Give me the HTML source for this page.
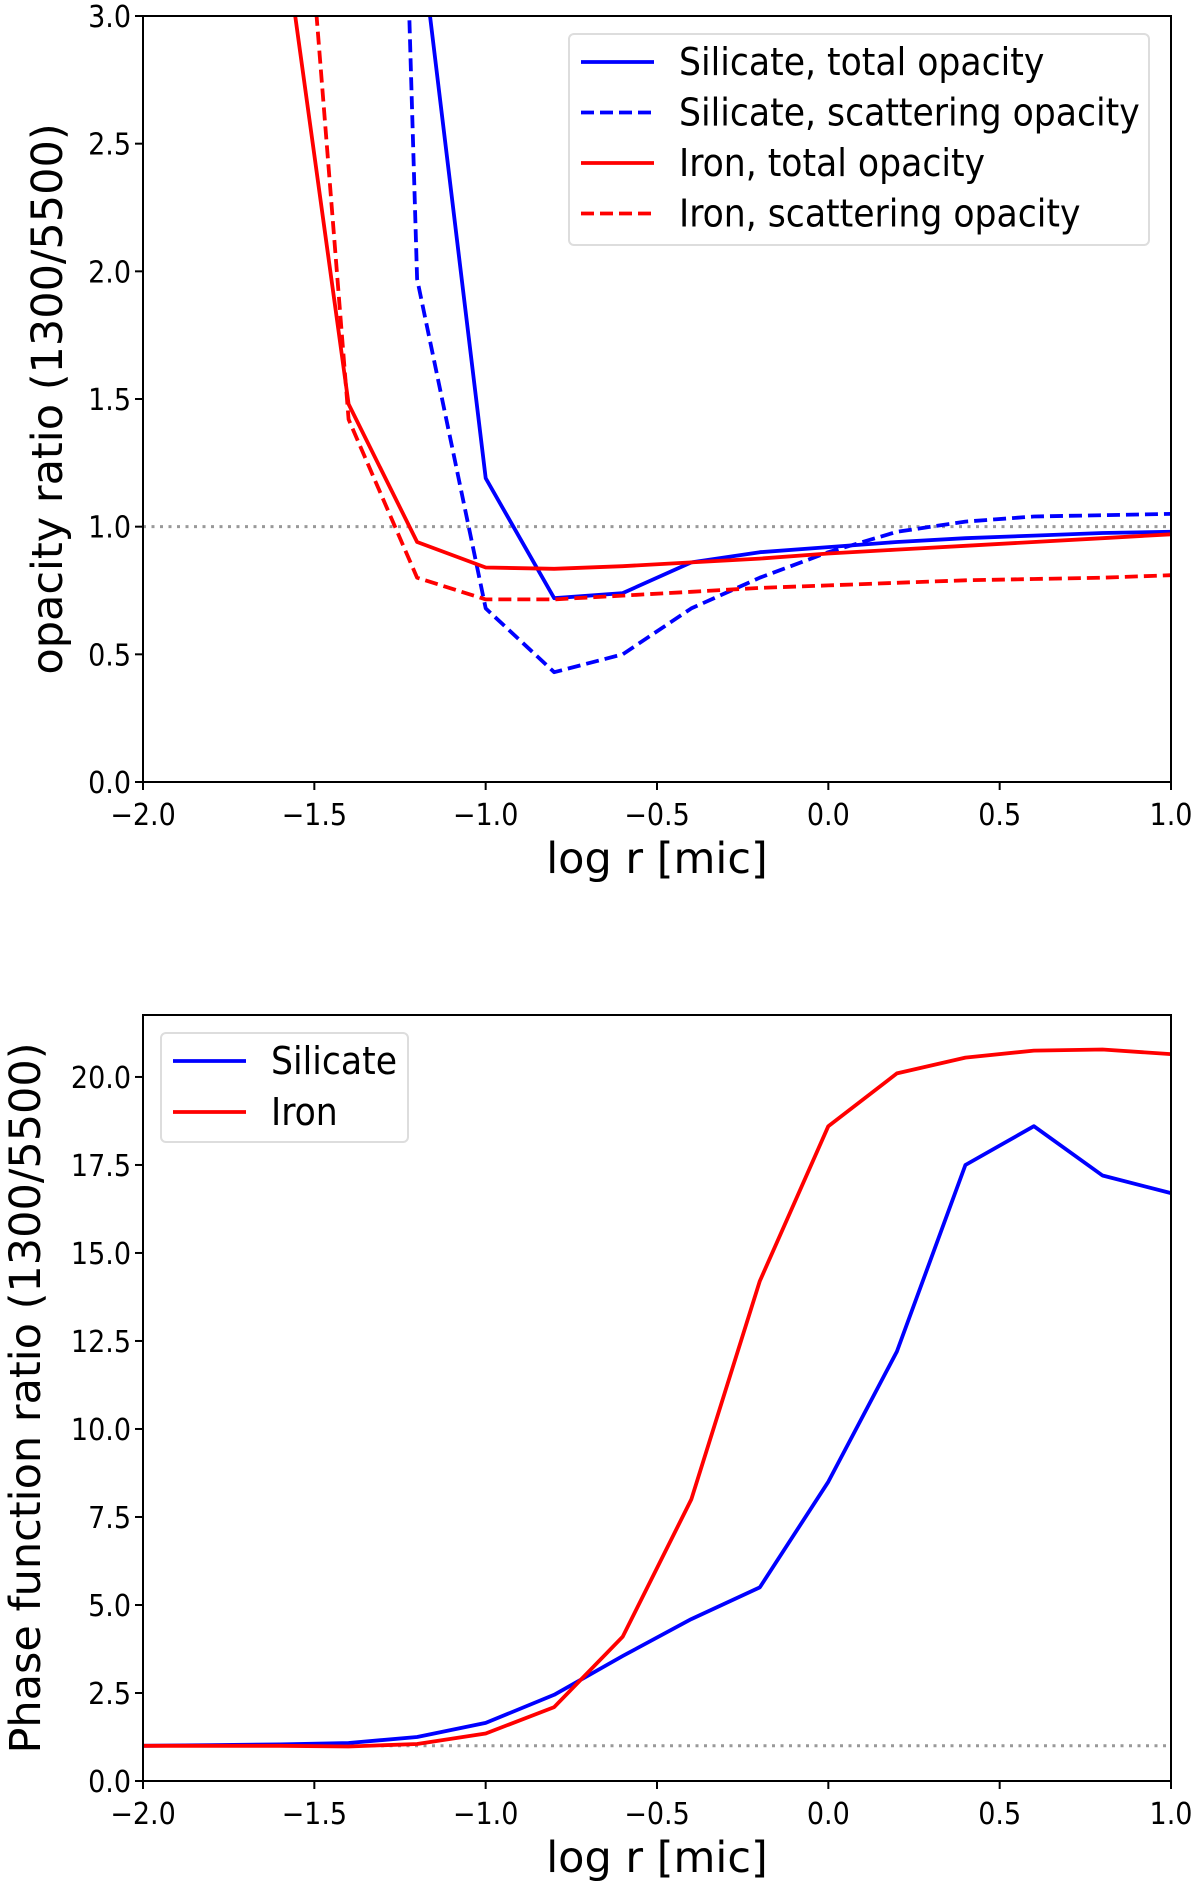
<!DOCTYPE html>
<html><head><meta charset="utf-8"><style>
html,body{margin:0;padding:0;background:#fff;}
svg text{font-family:"DejaVu Sans","Liberation Sans",sans-serif;fill:#000;}
svg text.cond{font-family:"DejaVu Sans Condensed","DejaVu Sans","Liberation Sans Narrow",sans-serif;font-stretch:condensed;}
</style></head><body>
<svg id="chart" width="1200" height="1890" xmlns="http://www.w3.org/2000/svg"></svg>
<script>
const xs = [-2,-1.8,-1.6,-1.4,-1.2,-1.0,-0.8,-0.6,-0.4,-0.2,0,0.2,0.4,0.6,0.8,1.0];
const silTotal = [20,20,20,20,3.42,1.19,0.72,0.74,0.86,0.90,0.92,0.94,0.955,0.965,0.975,0.98];
const silScat = [20,20,20,11,1.97,0.68,0.43,0.5,0.68,0.8,0.9,0.98,1.02,1.04,1.045,1.05];
const ironTotal = [20,20,3.43,1.48,0.94,0.84,0.835,0.845,0.86,0.875,0.895,0.91,0.925,0.94,0.955,0.97];
const ironScat = [20,20,4.8,1.42,0.8,0.715,0.715,0.73,0.745,0.76,0.77,0.78,0.79,0.795,0.8,0.81];
const silPhase = [1.0,1.02,1.04,1.08,1.25,1.65,2.45,3.55,4.6,5.5,8.5,12.2,17.5,18.6,17.2,16.7];
const ironPhase = [1.0,1.0,1.0,0.98,1.05,1.35,2.1,4.1,8.0,14.2,18.6,20.1,20.55,20.75,20.78,20.65];
const xTicks = [-2.0,-1.5,-1.0,-0.5,0.0,0.5,1.0];
const yTicksTop = [0.0,0.5,1.0,1.5,2.0,2.5,3.0];
const yTicksBot = [0.0,2.5,5.0,7.5,10.0,12.5,15.0,17.5,20.0];

const NS="http://www.w3.org/2000/svg";
const svg=document.getElementById('chart');
function mk(tag,attrs,parent){const e=document.createElementNS(NS,tag);for(const k in attrs)e.setAttribute(k,attrs[k]);(parent||svg).appendChild(e);return e;}
function fmt(v){return (v<0?'\u2212':'')+Math.abs(v).toFixed(1);}

function panel(cfg){
  const g=mk('g',{});
  
  
  const L=143,R=1171,T=cfg.top,B=cfg.bottom;
  const sx=v=>L+(v-(-2))/(3)*(R-L);
  const sy=v=>B-(v-0)/(cfg.ymax)*(B-T);
  const clipId='clip'+cfg.name;
  const cp=mk('clipPath',{id:clipId},g);
  mk('rect',{x:L,y:T,width:R-L,height:B-T},cp);
  const ref=mk('line',{x1:L,x2:R,y1:sy(1),y2:sy(1),stroke:'#999','stroke-width':3,'stroke-dasharray':'3,5.5','clip-path':`url(#${clipId})`},g);
  
  
  cfg.series.forEach(s=>{
    const d=xs.map((x,i)=>(i?'L':'M')+sx(x).toFixed(1)+','+sy(s.vals[i]).toFixed(1)).join(' ');
    const p=mk('path',{d:d,fill:'none',stroke:s.color,'stroke-width':3.8,'stroke-linejoin':'round','clip-path':`url(#${clipId})`},g);
    if(s.dash)p.setAttribute('stroke-dasharray','13,6');
    
    
  });
  const fr=mk('rect',{x:L,y:T,width:R-L,height:B-T,fill:'none',stroke:'#000','stroke-width':2},g);
  
  
  xTicks.forEach(t=>{
    mk('line',{x1:sx(t),x2:sx(t),y1:B,y2:B+8,stroke:'#000','stroke-width':2},g);
    const tx=mk('text',{x:sx(t),y:B+43,'font-size':30,'text-anchor':'middle',class:'cond'},g);
    tx.textContent=fmt(t);
    
    
  });
  cfg.yticks.forEach(t=>{
    mk('line',{x1:L-8,x2:L,y1:sy(t),y2:sy(t),stroke:'#000','stroke-width':2},g);
    const tx=mk('text',{x:L-12,y:sy(t)+11,'font-size':30,'text-anchor':'end',class:'cond'},g);
    tx.textContent=fmt(t);
    
    
  });
  const xl=mk('text',{x:(L+R)/2,y:B+91,'font-size':43,'text-anchor':'middle'},g);
  xl.textContent='log r [mic]';
  
  
  const yl=mk('text',{x:0,y:0,'font-size':43,'text-anchor':'middle',transform:`translate(${cfg.ylx},${(T+B)/2}) rotate(-90)`},g);
  yl.textContent=cfg.ylabel;
  
  
  const lg=mk('g',{},g);
  
  
  const lb=cfg.legend;
  mk('rect',{x:lb.x,y:lb.y,width:lb.w,height:lb.h,rx:5,fill:'#fff',stroke:'#ddd','stroke-width':2},lg);
  cfg.series.forEach((s,i)=>{
    const yy=lb.y0+i*lb.dy;
    const ent=mk('g',{},lg);
    
    
    const ln=mk('line',{x1:lb.x+12,x2:lb.x+85,y1:yy,y2:yy,stroke:s.color,'stroke-width':3.8},ent);
    if(s.dash)ln.setAttribute('stroke-dasharray','13,6');
    const t=mk('text',{x:lb.x+110,y:yy+13,'font-size':38.5,class:'cond'},ent);
    t.textContent=s.label;
  });
}

panel({name:'opacity-ratio-panel',top:16,bottom:782,ymax:3,yticks:yTicksTop,ylabel:'opacity ratio (1300/5500)',ylx:62,
  legend:{x:569,y:34,w:580,h:211,y0:62,dy:50.5},
  series:[
    {id:'silicate-total-line',vals:silTotal,color:'#0000ff',dash:false,label:'Silicate, total opacity'},
    {id:'silicate-scattering-line',vals:silScat,color:'#0000ff',dash:true,label:'Silicate, scattering opacity'},
    {id:'iron-total-line',vals:ironTotal,color:'#ff0000',dash:false,label:'Iron, total opacity'},
    {id:'iron-scattering-line',vals:ironScat,color:'#ff0000',dash:true,label:'Iron, scattering opacity'}
  ]});
panel({name:'phase-function-panel',top:1015,bottom:1781,ymax:21.76,yticks:yTicksBot,ylabel:'Phase function ratio (1300/5500)',ylx:40,
  legend:{x:161,y:1033,w:247,h:109,y0:1061,dy:51},
  series:[
    {id:'silicate-phase-line',vals:silPhase,color:'#0000ff',dash:false,label:'Silicate'},
    {id:'iron-phase-line',vals:ironPhase,color:'#ff0000',dash:false,label:'Iron'}
  ]});
</script>
</body></html>
